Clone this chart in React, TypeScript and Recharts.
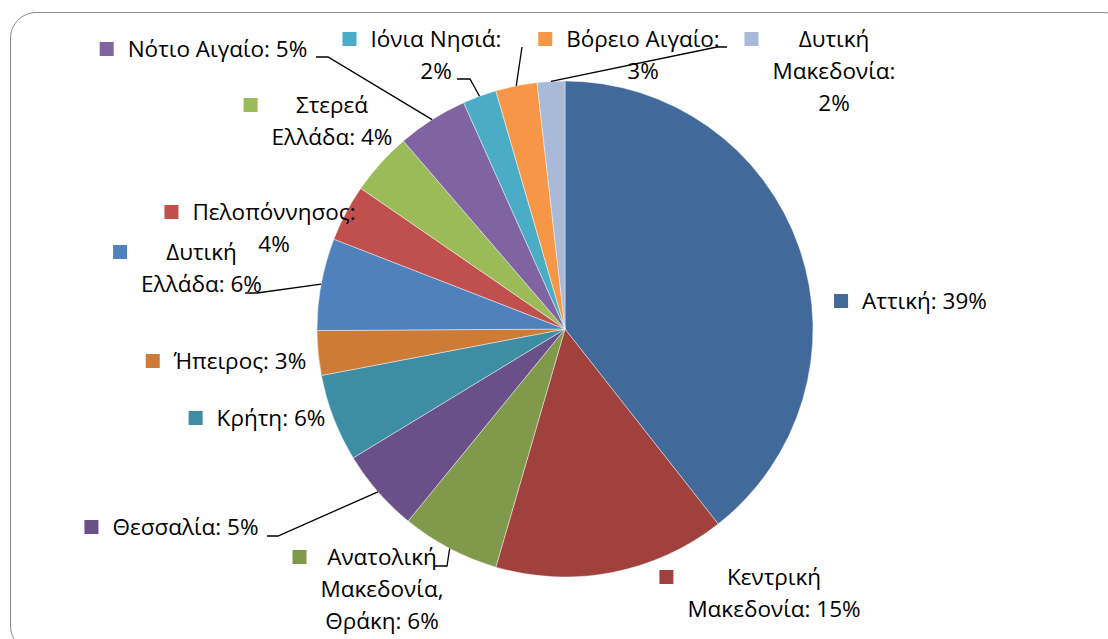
import React from 'react';
import { PieChart, Pie, Cell } from 'recharts';

// ---- data ----
const regions = [
  'Αττική',
  'Κεντρική Μακεδονία',
  'Ανατολική Μακεδονία, Θράκη',
  'Θεσσαλία',
  'Κρήτη',
  'Ήπειρος',
  'Δυτική Ελλάδα',
  'Πελοπόννησος',
  'Στερεά Ελλάδα',
  'Νότιο Αιγαίο',
  'Ιόνια Νησιά',
  'Βόρειο Αιγαίο',
  'Δυτική Μακεδονία',
];
const shares = [39.4, 15.1, 6.4, 5.4, 5.7, 2.9, 6.0, 3.7, 4.1, 4.6, 2.2, 2.7, 1.8];

// ---- styles / layout ----
const colors = [
  '#416A9B', '#A0413E', '#81994A', '#6A5088', '#3D8DA4', '#CD7B37',
  '#4F81BD', '#C0504D', '#9BBB59', '#8064A2', '#4BACC6', '#F79646', '#A9B9D8',
];
// words per label line
const lineBreaks = [[2], [1, 2], [1, 1, 2], [2], [2], [2], [1, 2], [1, 1], [1, 2], [3], [2, 1], [2, 1], [1, 1, 1]];
// text centre x / first baseline y, relative to pie centre
const labelOffsets: [number, number][] = [
  [359.5, -20], [209, 256], [-183, 236], [-379.5, 206], [-294, 97], [-325, 40],
  [-363.5, -69], [-291, -109], [-233, -216], [-347.5, -272], [-129, -282], [78, -282], [269, -282],
];
// leader line bend/end points relative to pie centre
const leaders: ([number, number][] | null)[] = [
  null, null, [[-118, 237], [-130, 237]], [[-287, 207], [-298, 207]], null, null,
  [[-308, -36], [-320, -36]], null, null, [[-237, -272], [-249, -272]],
  [[-95, -250], [-108, -250]], [[-43, -282]], [[152, -282], [162, -282]],
];

const W = 1108;
const H = 639;
const CX = 565;
const CY = 329;
const R = 248;
const FONT = "'Open Sans', 'Noto Sans', sans-serif";
const FONT_SIZE = 22.5;
const LINE_H = 32;
const RADIAN = Math.PI / 180;

const data = regions.map((name, i) => ({ name, value: shares[i] }));

let ctx: CanvasRenderingContext2D | null = null;
const measure = (s: string) => {
  if (!ctx) {
    const c = document.createElement('canvas');
    ctx = c.getContext('2d');
  }
  if (!ctx) return s.length * FONT_SIZE * 0.55;
  ctx.font = `${FONT_SIZE}px 'Open Sans'`;
  return ctx.measureText(s).width;
};

const renderLabel = (props: any) => {
  const { midAngle, outerRadius, index, percent } = props;
  const cx = typeof props.cx === 'number' ? props.cx : CX;
  const cy = typeof props.cy === 'number' ? props.cy : CY;
  const pct = Math.round(percent * 100);
  const words = `${regions[index]}: ${pct}%`.split(' ');
  const lines: string[] = [];
  let k = 0;
  for (const n of lineBreaks[index]) {
    lines.push(words.slice(k, k + n).join(' '));
    k += n;
  }
  const [ox, oy] = labelOffsets[index];
  const tx = cx + ox;
  const ty = cy + oy;
  const widest = Math.max(...lines.map(measure));
  const keyX = tx - widest / 2 - 28;
  const ex = cx + outerRadius * Math.cos(-midAngle * RADIAN);
  const ey = cy + outerRadius * Math.sin(-midAngle * RADIAN);
  const lead = leaders[index];
  let path = '';
  if (lead) {
    path = `M${ex},${ey}` + lead.map(([dx, dy]) => ` L${cx + dx},${cy + dy}`).join('');
  }
  return (
    <g key={`lbl-${index}`}>
      {lead && <path d={path} stroke="#000" strokeWidth={1.3} fill="none" />}
      <rect x={keyX} y={ty - 15} width={14} height={14} fill={colors[index]} />
      {lines.map((ln, j) => (
        <text
          key={j}
          x={tx}
          y={ty + j * LINE_H}
          textAnchor="middle"
          fontFamily={FONT}
          fontSize={FONT_SIZE}
          fill="#000"
        >
          {ln}
        </text>
      ))}
    </g>
  );
};

export default function App() {
  return (
    <div style={{ position: 'absolute', left: 0, top: 0, width: W, height: H, overflow: 'hidden', background: '#fff' }}>
      <div
        style={{
          position: 'absolute',
          left: 10,
          top: 12,
          width: 1120,
          height: 640,
          border: '1.5px solid #8a8a8a',
          borderRadius: 26,
          boxSizing: 'border-box',
        }}
      />
      <div style={{ position: 'absolute', left: 0, top: 0 }}>
        <PieChart width={W} height={H} margin={{ top: 0, right: 0, bottom: 0, left: 0 }}>
          <Pie
            data={data}
            dataKey="value"
            nameKey="name"
            cx={CX}
            cy={CY}
            outerRadius={R}
            startAngle={90}
            endAngle={-270}
            label={renderLabel}
            labelLine={false}
            isAnimationActive={false}
            stroke="rgba(255,255,255,0.55)"
            strokeWidth={0.8}
          >
            {data.map((d, i) => (
              <Cell key={d.name} fill={colors[i]} />
            ))}
          </Pie>
        </PieChart>
      </div>
    </div>
  );
}
